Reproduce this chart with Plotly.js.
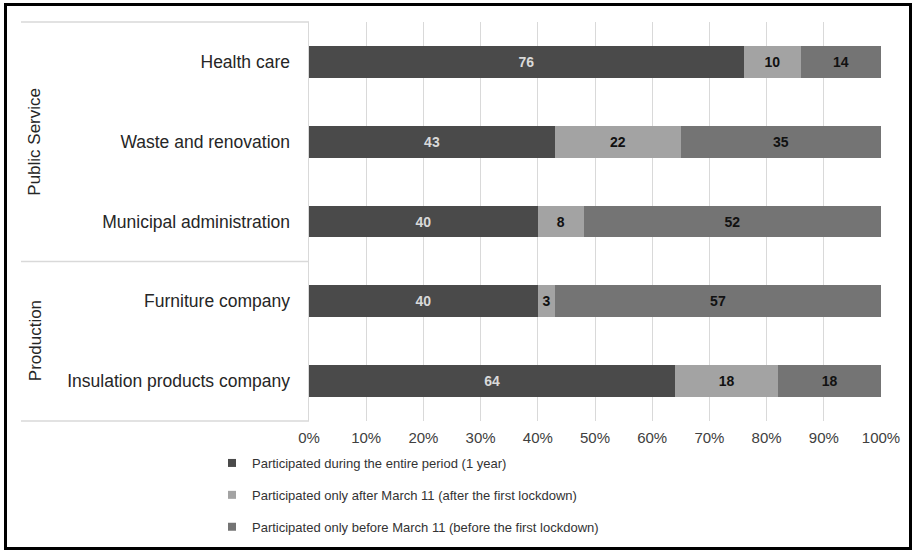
<!DOCTYPE html>
<html>
<head>
<meta charset="utf-8">
<script src="https://cdn.plot.ly/plotly-3.0.1.min.js"></script>
<style>
  html, body { margin: 0; padding: 0; background: #fff; }
  #wrap { position: relative; width: 915px; height: 553px; }
  #chart { width: 915px; height: 553px; }
  #frame { position: absolute; left: 4px; top: 3px; width: 902px; height: 541px; border: 3px solid #000; pointer-events: none; }
</style>
</head>
<body>
<div id="wrap"><div id="chart"></div><div id="frame"></div></div>
<script>
const categories = ["Health care", "Waste and renovation", "Municipal administration", "Furniture company", "Insulation products company"];
const groups = ["Public Service", "Production"];
const seriesNames = [
  "Participated during the entire period (1 year)",
  "Participated only after March 11 (after the first lockdown)",
  "Participated only before March 11 (before the first lockdown)"
];
const entirePeriod = [76, 43, 40, 40, 64];
const onlyAfter = [10, 22, 8, 3, 18];
const onlyBefore = [14, 35, 52, 57, 18];
const xTickVals = [0, 10, 20, 30, 40, 50, 60, 70, 80, 90, 100];
const xTickText = ["0%", "10%", "20%", "30%", "40%", "50%", "60%", "70%", "80%", "90%", "100%"];

const colors = ["#4a4a4a", "#a3a3a3", "#747474"];
const labelColors = ["#d9d9d9", "#111111", "#111111"];
const values = [entirePeriod, onlyAfter, onlyBefore];
const FONT = "'Liberation Sans', Arial, sans-serif";

const traces = [];
values.forEach((v, i) => {
  traces.push({
    type: "bar", orientation: "h",
    x: v, y: categories,
    name: seriesNames[i],
    marker: { color: colors[i] },
    width: 0.4,
    text: v.map(String),
    textposition: "inside",
    insidetextanchor: "middle",
    textangle: 0,
    constraintext: "none",
    textfont: { family: FONT, size: 14, color: labelColors[i], weight: "bold" },
    showlegend: false,
    hoverinfo: "x+y+name"
  });
});
values.forEach((v, i) => {
  traces.push({
    type: "scatter", mode: "markers",
    x: [null], y: [null],
    name: seriesNames[i],
    legendgroup: "g" + i,
    marker: { symbol: "square", size: 8, color: colors[i] },
    showlegend: true
  });
});

const plotL = 309, plotR = 881, plotT = 22, plotB = 421;
const pw = plotR - plotL, ph = plotB - plotT;
const leftEdge = (21 - plotL) / pw;

const layout = {
  width: 915, height: 553,
  margin: { l: plotL, r: 915 - plotR, t: plotT, b: 553 - plotB, autoexpand: false },
  paper_bgcolor: "#fff", plot_bgcolor: "#fff",
  barmode: "stack",
  showlegend: true,
  font: { family: FONT, color: "#404040" },
  xaxis: {
    range: [0, 100], tickvals: xTickVals, ticktext: xTickText,
    showgrid: true, gridcolor: "#d9d9d9", gridwidth: 1,
    zeroline: false, showline: false, ticks: "", ticklabelstandoff: 6,
    tickfont: { family: FONT, size: 15, color: "#404040" },
    fixedrange: true
  },
  yaxis: {
    type: "category", autorange: "reversed",
    showgrid: false, zeroline: false,
    showline: true, linecolor: "#d9d9d9", linewidth: 1.5,
    ticks: "", ticklabelstandoff: 14,
    tickfont: { family: FONT, size: 17.5, color: "#262626" },
    fixedrange: true
  },
  legend: {
    x: (212 - plotL) / pw, xanchor: "left",
    y: (plotB - 448) / ph, yanchor: "top",
    traceorder: "grouped", tracegroupgap: 12,
    font: { family: FONT, size: 13, color: "#333333" },
    bgcolor: "rgba(0,0,0,0)"
  },
  shapes: [
    { type: "line", xref: "paper", yref: "paper", x0: leftEdge, x1: 0, y0: 1, y1: 1, line: { color: "#d9d9d9", width: 1.5 } },
    { type: "line", xref: "paper", yref: "paper", x0: leftEdge, x1: 0, y0: 0.4, y1: 0.4, line: { color: "#d9d9d9", width: 1.5 } },
    { type: "line", xref: "paper", yref: "paper", x0: leftEdge, x1: 0, y0: 0, y1: 0, line: { color: "#d9d9d9", width: 1.5 } }
  ],
  annotations: [
    { xref: "paper", yref: "paper", x: (35 - plotL) / pw, y: 0.7, text: groups[0], textangle: -90, showarrow: false,
      font: { family: FONT, size: 17, color: "#262626" }, xanchor: "center", yanchor: "middle" },
    { xref: "paper", yref: "paper", x: (35 - plotL) / pw, y: 0.2, text: groups[1], textangle: -90, showarrow: false,
      font: { family: FONT, size: 17, color: "#262626" }, xanchor: "center", yanchor: "middle" }
  ]
};

Plotly.newPlot("chart", traces, layout, { displayModeBar: false, staticPlot: true });
</script>
</body>
</html>
